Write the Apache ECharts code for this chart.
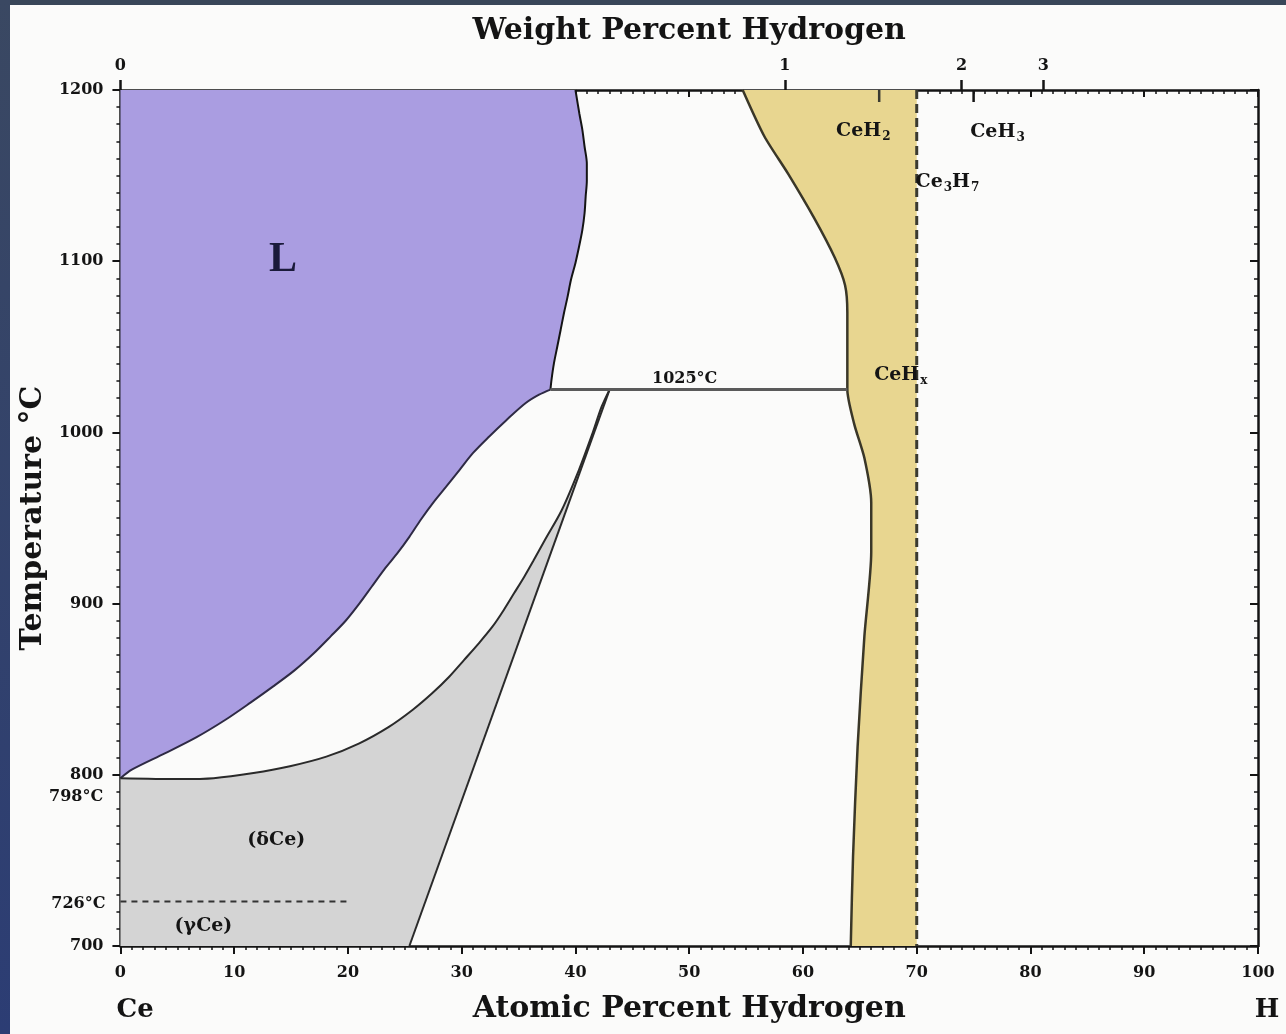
<!DOCTYPE html>
<html><head><meta charset="utf-8">
<script src="https://cdn.jsdelivr.net/npm/echarts@6/dist/echarts.min.js"></script>
<style>
html,body{margin:0;padding:0;width:1286px;height:1034px;overflow:hidden;background:#fbfbfa;}
#topbar{position:absolute;left:0;top:0;width:1286px;height:5px;background:#394659;}
#leftbar{position:absolute;left:0;top:0;width:10px;height:1034px;background:linear-gradient(#3a4862,#2c3d74);}
#chart{position:absolute;left:10px;top:5px;width:1276px;height:1029px;}
</style></head><body>
<div id="topbar"></div><div id="leftbar"></div><div id="chart"></div>
<script>
// ---------- data (atomic % H, temperature °C) ----------
const liquidus = [[40.0,1200],[40.35,1186],[40.6,1177],[40.8,1167],[41.0,1157],[41.0,1147],[40.9,1138],[40.8,1128],[40.6,1118],[40.3,1108],[40.0,1099],[39.6,1089],[39.3,1079],[39.0,1070],[38.7,1060],[38.4,1050],[38.1,1040],[37.9,1031],[37.8,1025]];
const liquidLower = [[37.8,1025],[36.8,1022],[35.6,1017],[33.9,1007],[32.4,997.5],[31.0,988],[29.8,978],[28.6,968],[27.5,959],[26.4,949],[25.4,939],[24.3,929],[23.2,920],[22.1,910],[21.0,900],[19.8,890],[18.5,881],[17.0,871],[15.3,861],[13.4,851.5],[11.4,842],[9.2,832],[6.7,822],[3.9,812.5],[1.0,803],[0,798]];
const deltaUpper = [[0,798],[5.2,797.5],[8.2,798],[11.7,801],[14.9,805],[18.1,810.6],[21.0,818.4],[23.6,828],[25.7,838],[27.4,847.6],[28.9,857.3],[30.2,867],[31.5,876.8],[32.7,886.5],[33.7,896.3],[34.6,906],[35.5,915.7],[36.3,925],[37.3,937],[38.8,954.7],[40.3,978],[41.5,999.5],[42.3,1015],[43.0,1025]];
const deltaSolvus = [[43.0,1025],[25.4,700]];
const hydrideLeft = [[54.7,1200],[56.6,1173],[58.7,1151],[61.0,1125],[62.8,1102],[63.7,1086],[63.9,1070],[63.9,1025],[64.5,1005],[65.4,985],[66.0,959],[66.0,930],[65.4,881],[64.8,816],[64.4,752],[64.2,700]];
const hydrideRight = [[70,1200],[70,700]];
const monotectic = [[37.8,1025],[63.9,1025]];
const gammaDelta = [[0,726],[20,726]];
const ceH2Mark = [[66.7,1200],[66.7,1193]];
const ceH3Mark = [[75,1200],[75,1193]];
const wtTickValues = [0,1,2,3];
const wtTickLabels = ['0','1','2','3'];
const labelTexts = ['{big|L}','{sm|1025°C}','{m|CeH}{sub|2}','{m|CeH}{sub|3}','{m|Ce}{sub|3}{m|H}{sub|7}','{m|CeH}{sub|x}','{m|(δCe)}','{m|(γCe)}','{sm|798°C}','{sm|726°C}','{ttl|Ce}','{ttl|H}'];
const labelAnchors = [[14.3,1100.7],[49.6,1031.2],[65.3,1176],[77.1,1175.5],[72.7,1146.3],[68.6,1033.5],[13.7,761.9],[7.3,711.7],[-3.9,787],[-3.7,724.8],[1.3,662.6],[100.8,662.6]];

// ---------- helpers ----------
const M_H = 1.008, M_CE = 140.116;
function wtToAt(w){ const nh = w / M_H, nc = (100 - w) / M_CE; return 100 * nh / (nh + nc); }
const wtTickPos = wtTickValues.map(wtToAt);

const INK = '#141414';
const FONT = 'DejaVu Serif';

function polygon(points, fill){
  return {
    type:'custom', coordinateSystem:'cartesian2d', xAxisIndex:0, yAxisIndex:0,
    data:[0], silent:true, z:1, clip:true,
    renderItem:function(params, api){
      return {type:'polygon', shape:{points:points.map(p=>api.coord(p))}, style:{fill:fill, stroke:null}};
    }
  };
}
function line(points, color, width, type, smooth){
  return {
    type:'line', xAxisIndex:0, yAxisIndex:0, data:points, symbol:'none', silent:true, z:3,
    smooth:smooth||false,
    lineStyle:{color:color, width:width, type:type||'solid'}, animation:false
  };
}

const chart = echarts.init(document.getElementById('chart'), null, {renderer:'canvas'});
const tickLabelStyle = {fontFamily:FONT, fontWeight:'bold', fontSize:16, color:INK};
const nameStyle = {fontFamily:FONT, fontWeight:'bold', fontSize:30, color:INK};
const plain = v => String(v);

chart.setOption({
  animation:false,
  backgroundColor:'#fbfbfa',
  grid:{left:107, top:85, right:28, bottom:88, containLabel:false},
  xAxis:[
    {type:'value', position:'bottom', min:0, max:100, interval:10,
     axisLine:{show:true, onZero:false, lineStyle:{color:INK, width:2.5}},
     axisTick:{show:true, inside:false, length:8, lineStyle:{color:INK, width:2}},
     minorTick:{show:true, splitNumber:10, length:4, lineStyle:{color:INK, width:1.5}},
     splitLine:{show:false},
     axisLabel:Object.assign({margin:19, formatter:plain}, tickLabelStyle),
     name:'Atomic Percent Hydrogen', nameLocation:'middle', nameGap:48, nameTextStyle:nameStyle},
    {type:'value', position:'top', min:0, max:100, interval:10,
     axisLine:{show:true, onZero:false, lineStyle:{color:INK, width:2.5}},
     axisTick:{show:true, inside:true, length:7, lineStyle:{color:INK, width:2}},
     minorTick:{show:true, splitNumber:10, length:4, lineStyle:{color:INK, width:1.5}},
     splitLine:{show:false}, axisLabel:{show:false}},
    {type:'value', position:'top', min:0, max:100,
     axisLine:{show:false},
     axisTick:{show:true, inside:false, length:10, customValues:wtTickPos, lineStyle:{color:INK, width:2.5}},
     splitLine:{show:false},
     axisLabel:Object.assign({margin:16, customValues:wtTickPos,
       formatter:function(v){ const i = wtTickPos.findIndex(p=>Math.abs(p-v)<1e-6); return i>=0 ? wtTickLabels[i] : ''; }}, tickLabelStyle),
     name:'Weight Percent Hydrogen', nameLocation:'middle', nameGap:44, nameTextStyle:nameStyle}
  ],
  yAxis:[
    {type:'value', position:'left', min:700, max:1200, interval:100,
     axisLine:{show:true, onZero:false, lineStyle:{color:INK, width:2.5}},
     axisTick:{show:true, inside:false, length:8, lineStyle:{color:INK, width:2}},
     minorTick:{show:true, splitNumber:10, length:4, lineStyle:{color:INK, width:1.5}},
     splitLine:{show:false},
     axisLabel:Object.assign({margin:17, formatter:plain}, tickLabelStyle),
     name:'Temperature °C', nameLocation:'middle', nameGap:64, nameRotate:90, nameTextStyle:nameStyle},
    {type:'value', position:'right', min:700, max:1200, interval:100,
     axisLine:{show:true, onZero:false, lineStyle:{color:INK, width:2.5}},
     axisTick:{show:true, inside:true, length:8, lineStyle:{color:INK, width:2}},
     minorTick:{show:true, splitNumber:10, length:4, lineStyle:{color:INK, width:1.5}},
     splitLine:{show:false}, axisLabel:{show:false}}
  ],
  series:[
    polygon([[0,1200]].concat(liquidus, liquidLower.slice(1)), '#aa9de1'),
    polygon([[0,700]].concat(deltaUpper, [[25.4,700]]), '#d4d4d4'),
    polygon(hydrideLeft.concat([[70,700],[70,1200]]), '#e8d690'),
    line(liquidus, INK, 2, 'solid', 0.3),
    line(liquidLower, '#2e2a44', 2, 'solid', 0.3),
    line(deltaUpper, '#2a2a2a', 2, 'solid', 0.3),
    line(deltaSolvus, '#2a2a2a', 2),
    line(hydrideLeft, '#3a3728', 2.5, 'solid', 0.25),
    line(monotectic, '#5a5a5a', 3),
    line(hydrideRight, '#3a3a30', 3, [9,5]),
    line(gammaDelta, '#333', 2, [6,5]),
    line(ceH2Mark, '#3a3a30', 2.5),
    line(ceH3Mark, INK, 2.5),
    {type:'scatter', xAxisIndex:0, yAxisIndex:0, data:labelAnchors, symbolSize:0, silent:true, clip:false, z:6,
     itemStyle:{opacity:1},
     label:{show:true, position:'inside', color:INK,
       formatter:function(p){ return labelTexts[p.dataIndex]; },
       rich:{
         big:{fontFamily:'Liberation Serif', fontWeight:'bold', fontSize:42, color:'#1a1a3a'},
         sm:{fontFamily:FONT, fontWeight:'bold', fontSize:16, color:INK},
         m:{fontFamily:FONT, fontWeight:'bold', fontSize:19, color:INK},
         sub:{fontFamily:FONT, fontWeight:'bold', fontSize:12, color:INK, padding:[12,0,0,1]},
         ttl:{fontFamily:FONT, fontWeight:'bold', fontSize:26, color:INK}
       }}}
  ]
});
</script>
</body></html>
